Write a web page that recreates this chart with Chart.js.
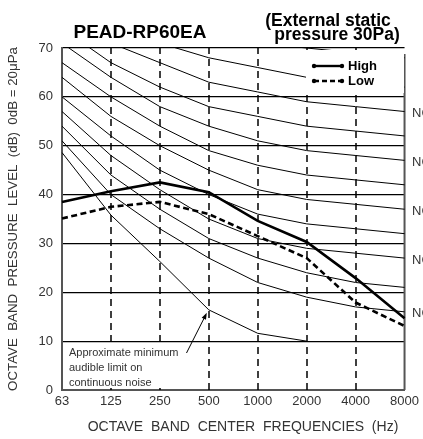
<!DOCTYPE html>
<html>
<head>
  <title>PEAD-RP60EA NC curves</title>
  <script src="https://cdn.jsdelivr.net/npm/chart.js"></script>
  <style>
    body { margin: 0; background: #fff; }
    #wrap { width: 423px; height: 439px; }
  </style>
</head>
<body>
<div id="wrap"><canvas id="ncChart" width="423" height="439"></canvas></div>
<script>
  // --- data ---
  const freqs = ['63', '125', '250', '500', '1000', '2000', '4000', '8000'];
  const yTicks = [0, 10, 20, 30, 40, 50, 60, 70];

  const high = [38.5, 40.7, 42.5, 40.5, 34.6, 30.3, 22.9, 14.7];
  const low = [35.1, 37.5, 38.5, 36.0, 31.5, 27.0, 17.9, 13.1];
  const minAudible = [48.6, 35.8, 26.3, 16.4, 11.6, 10.0, null, null];

  const nc20 = [51, 40, 33, 27, 22, 19, 17, 16];
  const nc25 = [54, 44, 37, 31, 27, 24, 22, 21];
  const nc30 = [57, 48, 41, 35, 31, 29, 28, 27];
  const nc35 = [60, 52, 45, 40, 36, 34, 33, 32];
  const nc40 = [64, 56, 50, 45, 41, 39, 38, 37];
  const nc45 = [67, 60, 54, 49, 46, 44, 43, 42];
  const nc50 = [71, 64, 58, 54, 51, 49, 48, 47];
  const nc55 = [74, 67, 62, 58, 56, 54, 53, 52];
  const nc60 = [77, 71, 67, 63, 61, 59, 58, 57];
  const nc65 = [80, 75, 71, 68, 66, 64, 63, 62];
  const nc70 = [83, 79, 75, 72, 71, 70, 69, 68];

  const ncCurves = [nc20, nc25, nc30, nc35, nc40, nc45, nc50, nc55, nc60, nc65, nc70];
  const ncNames = ['NC-20', 'NC-25', 'NC-30', 'NC-35', 'NC-40', 'NC-45', 'NC-50', 'NC-55', 'NC-60', 'NC-65', 'NC-70'];
  const labelled = ['NC-60', 'NC-50', 'NC-40', 'NC-30', 'NC-20'];

  const FONT = '"Liberation Sans", Arial, sans-serif';

  const datasets = [
    { label: 'High', data: high, borderColor: '#000', borderWidth: 2.6, pointRadius: 0, tension: 0 },
    { label: 'Low', data: low, borderColor: '#000', borderWidth: 2.6, borderDash: [6, 3.5], pointRadius: 0, tension: 0 },
    { label: 'min', data: minAudible, borderColor: '#000', borderWidth: 1, pointRadius: 0, tension: 0 }
  ];
  ncCurves.forEach((c, i) => {
    datasets.push({ label: ncNames[i], data: c, borderColor: '#000', borderWidth: 1, pointRadius: 0, tension: 0 });
  });

  // dashed verticals, frame, titles, legend, notes
  const extras = {
    id: 'extras',
    beforeDatasetsDraw(chart) {
      const { ctx, chartArea: a, scales: { x } } = chart;
      ctx.save();
      ctx.strokeStyle = '#000';
      ctx.lineWidth = 1.5;
      ctx.setLineDash([7, 5]);
      for (let i = 1; i < freqs.length - 1; i++) {
        const px = Math.round(x.getPixelForValue(i));
        ctx.beginPath();
        ctx.moveTo(px, a.bottom);
        ctx.lineTo(px, a.top);
        ctx.stroke();
      }
      ctx.setLineDash([]);
      // white box behind the note text
      ctx.fillStyle = '#fff';
      ctx.fillRect(65, 344, 120, 44);
      ctx.strokeStyle = '#555';
      ctx.lineWidth = 2;
      ctx.beginPath();
      ctx.moveTo(a.right, a.top + 6);
      ctx.lineTo(a.right, a.bottom);
      ctx.stroke();
      ctx.restore();
    },
    afterDatasetsDraw(chart) {
      const { ctx, chartArea: a, scales: { x, y } } = chart;
      ctx.save();

      // legend box
      ctx.fillStyle = '#fff';
      ctx.fillRect(306, 50, 98, 43);
      ctx.strokeStyle = '#000';
      ctx.fillStyle = '#000';
      ctx.lineWidth = 2.4;
      [[66, []], [81, [5, 3]]].forEach(([ly, dash]) => {
        ctx.setLineDash(dash);
        ctx.beginPath();
        ctx.moveTo(314, ly);
        ctx.lineTo(342, ly);
        ctx.stroke();
        ctx.setLineDash([]);
        [314, 342].forEach(px => {
          ctx.beginPath();
          ctx.arc(px, ly, 2.2, 0, Math.PI * 2);
          ctx.fill();
        });
      });
      ctx.font = 'bold 13px ' + FONT;
      ctx.textBaseline = 'middle';
      ctx.textAlign = 'left';
      ctx.fillText('High', 348, 66);
      ctx.fillText('Low', 348, 81);

      // NC labels at right edge (cut off by the page edge)
      ctx.font = '13px ' + FONT;
      ctx.fillStyle = '#333';
      labelled.forEach(name => {
        const c = ncCurves[ncNames.indexOf(name)];
        ctx.fillText(name, a.right + 7.5, y.getPixelForValue(c[c.length - 1]) + 2);
      });

      // minimum audible note
      ctx.font = '11px ' + FONT;
      ctx.fillStyle = '#333';
      ctx.fillText('Approximate minimum', 69, 353);
      ctx.fillText('audible limit on', 69, 368);
      ctx.fillText('continuous noise', 69, 383);
      const tx = x.getPixelForValue(3) - 2, ty = y.getPixelForValue(minAudible[3]) + 3;
      const fx = 186.5, fy = 353;
      const ang = Math.atan2(ty - fy, tx - fx);
      ctx.strokeStyle = '#000';
      ctx.fillStyle = '#000';
      ctx.lineWidth = 1;
      ctx.beginPath();
      ctx.moveTo(fx, fy);
      ctx.lineTo(tx - 5 * Math.cos(ang), ty - 5 * Math.sin(ang));
      ctx.stroke();
      ctx.beginPath();
      ctx.moveTo(tx, ty);
      ctx.lineTo(tx - 7 * Math.cos(ang - 0.35), ty - 7 * Math.sin(ang - 0.35));
      ctx.lineTo(tx - 7 * Math.cos(ang + 0.35), ty - 7 * Math.sin(ang + 0.35));
      ctx.closePath();
      ctx.fill();

      // titles
      ctx.fillStyle = '#000';
      ctx.textAlign = 'center';
      ctx.textBaseline = 'alphabetic';
      ctx.font = 'bold 19px ' + FONT;
      ctx.fillText('PEAD-RP60EA', 140, 38);
      ctx.font = 'bold 17.5px ' + FONT;
      ctx.fillText('(External static', 328, 26);
      ctx.fillText('pressure 30Pa)', 337, 40);

      // axis titles
      ctx.fillStyle = '#333';
      ctx.textBaseline = 'middle';
      ctx.font = '14px ' + FONT;
      ctx.fillText('OCTAVE  BAND  CENTER  FREQUENCIES  (Hz)', 243, 427);
      ctx.font = '13.3px ' + FONT;
      ctx.translate(13, (a.top + a.bottom) / 2);
      ctx.rotate(-Math.PI / 2);
      ctx.fillText('OCTAVE  BAND  PRESSURE  LEVEL  (dB)  0dB = 20\u03bcPa', 0, 0);
      ctx.restore();
    }
  };

  new Chart(document.getElementById('ncChart'), {
    type: 'line',
    data: { labels: freqs, datasets: datasets },
    options: {
      responsive: false,
      animation: false,
      devicePixelRatio: 1,
      layout: { padding: { top: 48, right: 16, left: 0, bottom: 0 } },
      plugins: { legend: { display: false }, tooltip: { enabled: false } },
      scales: {
        x: {
          offset: false,
          grid: { display: false, drawTicks: false },
          border: { display: true, color: '#555', width: 2 },
          ticks: { color: '#333', padding: 4, maxRotation: 0, autoSkip: false, font: { family: FONT, size: 13 } },
          afterFit: s => { s.height = 49; }
        },
        y: {
          min: 0,
          max: 70,
          afterBuildTicks: s => { s.ticks = yTicks.map(v => ({ value: v })); },
          grid: { color: '#000', lineWidth: 1.2, drawTicks: false },
          border: { display: true, color: '#555', width: 2 },
          ticks: { color: '#333', padding: 9, font: { family: FONT, size: 13 } },
          afterFit: s => { s.width = 62; }
        }
      }
    },
    plugins: [extras]
  });
</script>
</body>
</html>
